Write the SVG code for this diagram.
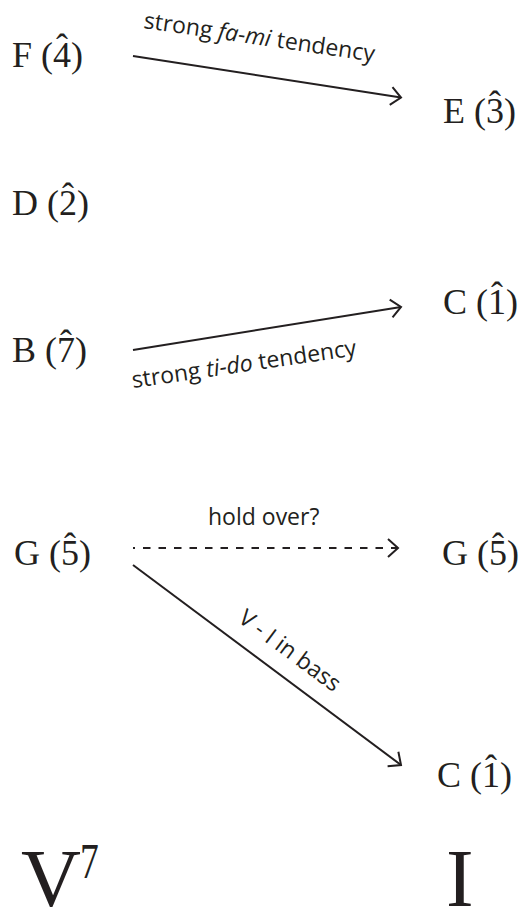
<svg xmlns="http://www.w3.org/2000/svg" width="521" height="907" viewBox="0 0 521 907">
<style>
.note{font-family:"Liberation Serif","Times New Roman",serif;font-size:36px;fill:#231f20}
.hat{font-family:"Liberation Serif","Times New Roman",serif;font-size:36px;fill:#231f20;text-anchor:middle}
.chord{font-family:"Liberation Serif","Times New Roman",serif;font-size:83px;fill:#231f20}
.lbl{font-family:"Open Sans","Noto Sans",sans-serif;font-size:23px;fill:#231f20}
.it{font-style:italic}
.conn{stroke:#231f20;stroke-width:2;fill:none}
.dash{stroke-dasharray:7.5 8;stroke-dashoffset:5.5}
</style>
<defs>
<marker id="arr" markerUnits="userSpaceOnUse" markerWidth="24" markerHeight="24" viewBox="-12 -12 24 24" refX="0" refY="0" orient="auto">
<path d="M-10,-9 L0,0 L-10,9" fill="none" stroke="#231f20" stroke-width="2"/>
</marker>
</defs>
<g id="connectors">
<line class="conn" x1="133" y1="56" x2="401" y2="97.5" marker-end="url(#arr)"/>
<line class="conn" x1="133" y1="350" x2="401" y2="307" marker-end="url(#arr)"/>
<line class="conn dash" x1="133" y1="548" x2="398" y2="548" marker-end="url(#arr)"/>
<line class="conn" x1="133" y1="565" x2="401" y2="765" marker-end="url(#arr)"/>
<text class="lbl" x="143" y="28" transform="rotate(8.3 143 28)">strong <tspan class="it">fa-mi</tspan> tendency</text>
<text class="lbl" x="133" y="388" transform="rotate(-8.3 133 388)">strong <tspan class="it">ti-do</tspan> tendency</text>
<text class="lbl" x="208" y="525">hold over?</text>
<text class="lbl" x="237" y="621" transform="rotate(36.6 237 621)">V - I in bass</text>
</g>
<g id="node-F"><text class="note" x="12" y="66.5">F (4)</text><text class="hat" x="62" y="59">ˆ</text></g>
<g id="node-E"><text class="note" x="443" y="123">E (3)</text><text class="hat" x="495" y="115.5">ˆ</text></g>
<g id="node-D"><text class="note" x="12" y="215">D (2)</text><text class="hat" x="68" y="207.5">ˆ</text></g>
<g id="node-C1"><text class="note" x="443" y="314">C (1)</text><text class="hat" x="497" y="306.5">ˆ</text></g>
<g id="node-B"><text class="note" x="12" y="362">B (7)</text><text class="hat" x="66" y="354.5">ˆ</text></g>
<g id="node-G1"><text class="note" x="14" y="565">G (5)</text><text class="hat" x="70" y="557.5">ˆ</text></g>
<g id="node-G2"><text class="note" x="442" y="565">G (5)</text><text class="hat" x="498" y="557.5">ˆ</text></g>
<g id="node-C2"><text class="note" x="437" y="787">C (1)</text><text class="hat" x="491" y="779.5">ˆ</text></g>
<g id="chord-V7"><text class="chord" x="21" y="906">V</text><text class="chord" x="80" y="878" style="font-size:50px" transform="translate(80 878) scale(0.75 1) translate(-80 -878)">7</text></g>
<g id="chord-I"><text class="chord" x="446" y="906">I</text></g>
</svg>
